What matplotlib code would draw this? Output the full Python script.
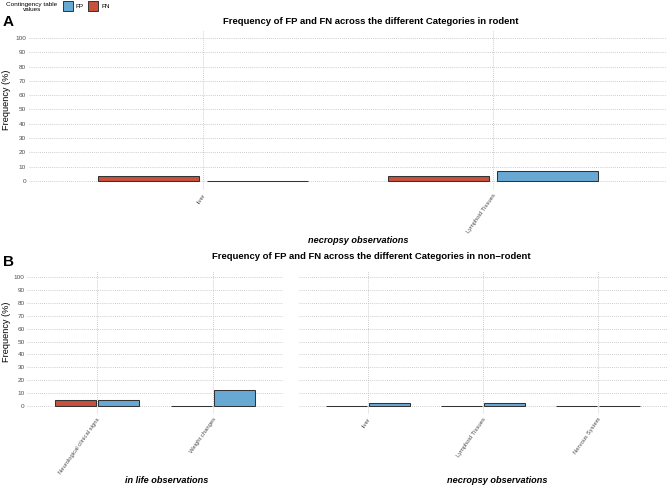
import matplotlib
matplotlib.use("Agg")
import matplotlib.pyplot as plt
from matplotlib.patches import Rectangle
import numpy as np

plt.rcParams['font.family'] = ['Liberation Sans', 'DejaVu Sans']

# ---- data ----
series_names = ["FP", "FN"]
series_colors = {"FP": "#68A9D4", "FN": "#C9503A"}

rodent_categories = ["liver", "Lymphoid Tissues"]
rodent_fp = [0.0, 7.14]
rodent_fn = [3.57, 3.57]

inlife_categories = ["Neurological clinical signs", "Weight changes"]
inlife_fp = [4.9, 12.2]
inlife_fn = [4.9, 0.0]

necropsy_categories = ["liver", "Lymphoid Tissues", "Nervous System"]
necropsy_fp = [2.6, 2.6, 0.0]
necropsy_fn = [0.0, 0.0, 0.0]

y_ticks = list(range(0, 101, 10))

title_a = "Frequency of FP and FN across the different Categories in rodent"
title_b = "Frequency of FP and FN across the different Categories in non\u2212rodent"

W, H = 668, 486
fig = plt.figure(figsize=(W / 100, H / 100), dpi=100)


def px_axes(x0, x1, ytop, ybot):
    return fig.add_axes([x0 / W, 1 - ybot / H, (x1 - x0) / W, (ybot - ytop) / H])


GRID = dict(color="#BDBDBD", linestyle=(0, (1, 1.5)), linewidth=0.6)


def draw_panel(ax, cats, fp, fn, ylo, show_y=True):
    x = np.arange(1, len(cats) + 1)
    off, w = 0.1875, 0.35
    ax.bar(x - off, fn, width=w, color=series_colors["FN"], edgecolor="#333333",
           linewidth=0.75, zorder=3)
    ax.bar(x + off, fp, width=w, color=series_colors["FP"], edgecolor="#333333",
           linewidth=0.75, zorder=3)
    ax.set_xlim(0.4, len(cats) + 0.6)
    ax.set_ylim(ylo, 105)
    ax.set_yticks(y_ticks)
    ax.set_xticks(x)
    ax.set_xticklabels(cats, rotation=55, ha="right", rotation_mode="anchor",
                       fontsize=4.2, color="#4D4D4D")
    ax.grid(True, **GRID)
    ax.set_axisbelow(True)
    for s in ax.spines.values():
        s.set_visible(False)
    ax.tick_params(axis="both", length=0, pad=2)
    ax.tick_params(axis="x", pad=2)
    if show_y:
        ax.set_yticklabels([str(t) for t in y_ticks], fontsize=4.6, color="#4D4D4D")
    else:
        ax.set_yticklabels([])


# Panel A : 100 -> y=38 px, 0 -> y=181 px
axA = px_axes(29, 667, 30.85, 190.0)
draw_panel(axA, rodent_categories, rodent_fp, rodent_fn, ylo=-6.4)

# Panel B : 100 -> y=277 px, 0 -> y=406 px
axB1 = px_axes(27.4, 282.6, 270.55, 414.0)
draw_panel(axB1, inlife_categories, inlife_fp, inlife_fn, ylo=-6.2)
axB2 = px_axes(299, 667, 270.55, 414.0)
draw_panel(axB2, necropsy_categories, necropsy_fp, necropsy_fn, ylo=-6.2, show_y=False)


def ftext(x, y, s, **kw):
    fig.text(x / W, 1 - y / H, s, **kw)


# panel letters
ftext(3, 22, "A", fontsize=11, fontweight="bold", va="center", ha="left")
ftext(3, 262, "B", fontsize=11, fontweight="bold", va="center", ha="left")

# titles
ftext(371, 21, title_a, fontsize=6.8, fontweight="bold", va="center", ha="center")
ftext(371, 256, title_b, fontsize=6.8, fontweight="bold", va="center", ha="center")

# y labels
ftext(7, 100, "Frequency (%)", fontsize=6.6, rotation=90, va="center", ha="center")
ftext(7, 332, "Frequency (%)", fontsize=6.6, rotation=90, va="center", ha="center")

# x axis titles
ftext(358, 240, "necropsy observations", fontsize=6.6, fontweight="bold",
      fontstyle="italic", va="center", ha="center")
ftext(167, 480, "in life observations", fontsize=6.6, fontweight="bold",
      fontstyle="italic", va="center", ha="center")
ftext(497, 480, "necropsy observations", fontsize=6.6, fontweight="bold",
      fontstyle="italic", va="center", ha="center")

# legend
ftext(32, 7, "Contingency table\nvalues", fontsize=4.6, va="center", ha="center",
      linespacing=1.0)
key_x = [63, 88]
for kx, name in zip(key_x, series_names):
    fig.patches.append(Rectangle((kx / W, 1 - 11 / H), 10 / W, 10 / H,
                                 transform=fig.transFigure,
                                 facecolor=series_colors[name], edgecolor="#333333",
                                 linewidth=0.7))
    ftext(kx + 13, 6, name, fontsize=4.6, va="center", ha="left")

fig.savefig("out.png", dpi=100)
